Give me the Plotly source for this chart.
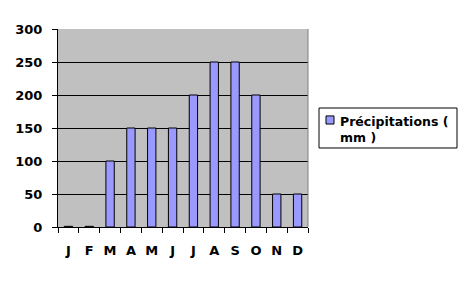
import plotly.graph_objects as go

months = ["Jan", "Feb", "Mar", "Apr", "May", "Jun", "Jul", "Aug", "Sep", "Oct", "Nov", "Dec"]
month_labels = ["J", "F", "M", "A", "M", "J", "J", "A", "S", "O", "N", "D"]
precip = [1, 1, 100, 150, 150, 150, 200, 250, 250, 200, 50, 50]
y_ticks = [0, 50, 100, 150, 200, 250, 300]
series_name = "Précipitations (<br>mm )"
bar_color = "#9999FF"

font = dict(family="DejaVu Sans, sans-serif", size=13, color="black", weight="bold")

fig = go.Figure()
fig.add_trace(go.Bar(
    x=months, y=precip, name=series_name.replace("<br>", ""),
    marker=dict(color=bar_color, line=dict(color="black", width=1)),
    showlegend=False,
))

fig.update_layout(
    width=468, height=281,
    margin=dict(l=58, r=160, t=29, b=54),
    paper_bgcolor="white", plot_bgcolor="#C0C0C0",
    bargap=0.6,
    font=font,
    xaxis=dict(
        type="category", tickmode="array", tickvals=months, ticktext=month_labels,
        tickson="boundaries", ticks="outside", ticklen=5, tickcolor="black",
        showline=True, linecolor="black", linewidth=1, showgrid=False,
        ticklabelstandoff=11, tickfont=font, tickangle=0,
    ),
    yaxis=dict(
        range=[0, 300], tickmode="array", tickvals=y_ticks,
        ticks="outside", ticklen=5, tickcolor="black",
        showline=True, linecolor="black", linewidth=1,
        showgrid=True, gridcolor="black", gridwidth=1,
        zeroline=False, ticklabelstandoff=7, tickfont=font,
    ),
    showlegend=False,
)
# plot-area right border
fig.add_shape(type="line", xref="paper", yref="paper", x0=1, x1=1, y0=0, y1=1,
              line=dict(color="#808080", width=1))
# legend box
fig.add_shape(type="rect", xref="paper", yref="paper", x0=1.044, x1=1.596, y0=0.399, y1=0.601,
              line=dict(color="black", width=1), fillcolor="white", layer="above")
fig.add_shape(type="rect", xref="paper", yref="paper", x0=1.072, x1=1.104, y0=0.520, y1=0.561,
              line=dict(color="black", width=1), fillcolor=bar_color, layer="above")
fig.add_annotation(xref="paper", yref="paper", x=1.118, y=0.492, xanchor="left", yanchor="middle",
                   text=series_name, showarrow=False, align="left",
                   font=dict(family="DejaVu Sans, sans-serif", size=12.5, color="black", weight="bold"))

fig.write_html("out.html")
